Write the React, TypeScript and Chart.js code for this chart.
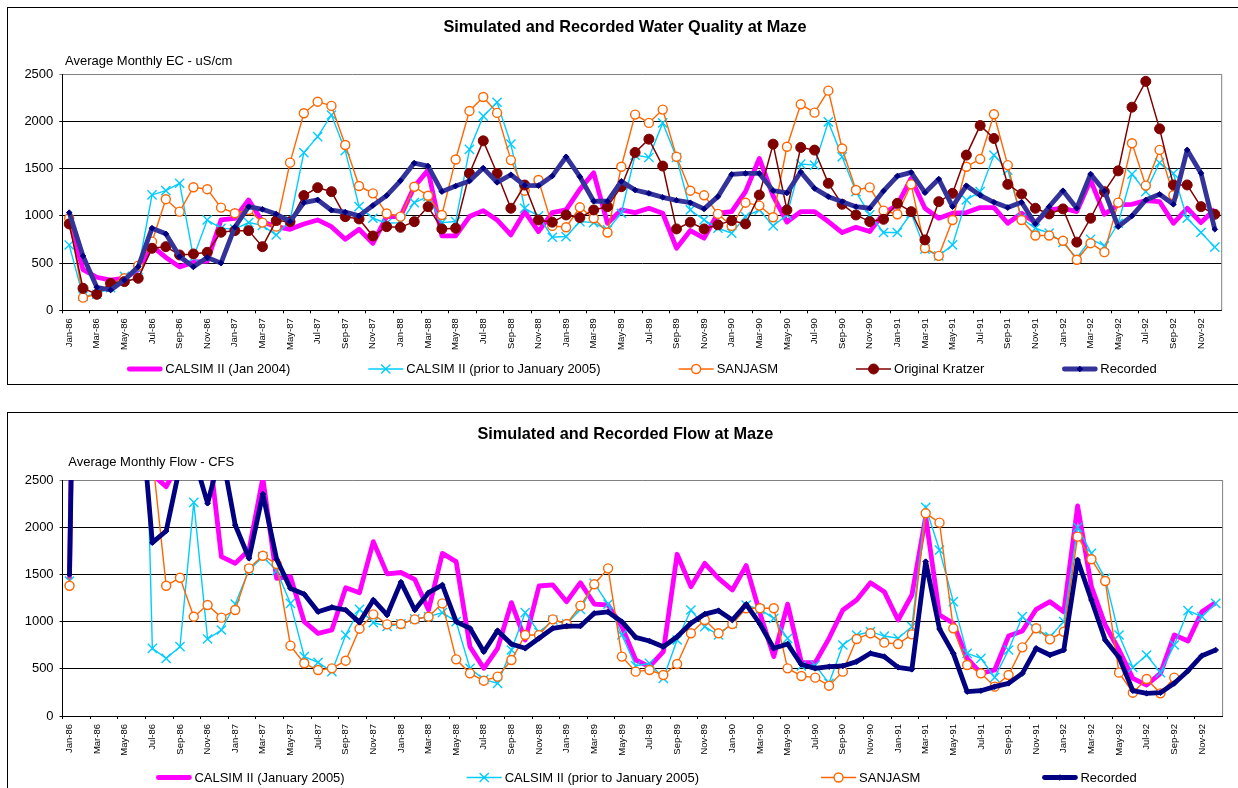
import React, { useEffect, useRef } from "react";
import { Chart, registerables } from "chart.js";

Chart.register(...registerables);

const FONT = "'Liberation Sans', Arial, Helvetica, sans-serif";

// ---------- categories ----------
const MONTH_NAMES = ["Jan", "Feb", "Mar", "Apr", "May", "Jun", "Jul", "Aug", "Sep", "Oct", "Nov", "Dec"];
const YEARS = ["86", "87", "88", "89", "90", "91", "92"];
const MONTH_LABELS: string[] = [];
YEARS.forEach((y) => MONTH_NAMES.forEach((m) => MONTH_LABELS.push(m + "-" + y)));

// ---------- y ticks ----------
const Y_MIN = 0;
const Y_MAX = 2500;
const Y_STEP = 500;

// ---------- Water quality (EC, uS/cm) ----------
const ecCalsim2004 = [
  960, 430, 350, 320, 340, 430, 680, 560, 460, 510, 520, 957,
  975, 1169, 939, 886, 858, 914, 957, 886, 752, 858, 710, 993,
  993, 1309, 1485, 789, 789, 993, 1056, 957, 799, 1045, 834, 1035,
  1063, 1281, 1457, 922, 1063, 1035, 1081, 1028, 658, 845, 764, 1028,
  1045, 1257, 1609, 1211, 935, 1045, 1045, 940, 824, 880, 834, 1028,
  1116, 1397, 1081, 975, 1028, 1035, 1088, 1088, 922, 1028, 929, 1063,
  1081, 1045, 1380, 1017, 1116, 1123, 1162, 1151, 922, 1081, 929, 1070,
];
const ecCalsimPrior = [
  692, 150, 170, 240, 360, 430, 1222, 1268, 1346, 560, 957, 869,
  860, 929, 900, 798, 950, 1670, 1840, 2069, 1691, 1098, 975, 922,
  929, 1140, 1204, 929, 940, 1704, 2056, 2204, 1760, 1081, 1000, 774,
  781, 940, 929, 852, 1028, 1644, 1619, 1985, 1619, 1063, 957, 869,
  817, 993, 1063, 894, 1010, 1550, 1538, 1996, 1626, 1257, 1010, 824,
  824, 1028, 648, 577, 693, 1169, 1257, 1644, 1485, 975, 869, 817,
  718, 553, 753, 683, 922, 1443, 1257, 1563, 1450, 975, 824, 669,
];
const ecSanjasm = [
  975, 134, 170, 280, 340, 473, 727, 1177, 1045, 1304, 1283, 1088,
  1028, 1063, 929, 886, 1564, 2087, 2210, 2165, 1751, 1317, 1239, 1025,
  992, 1309, 1214, 1010, 1598, 2112, 2260, 2091, 1591, 1267, 1380, 894,
  880, 1091, 975, 824, 1521, 2073, 1985, 2126, 1626, 1267, 1218, 1021,
  894, 1140, 1109, 986, 1732, 2182, 2094, 2327, 1714, 1274, 1302, 1056,
  1017, 1334, 658, 577, 957, 1521, 1602, 2077, 1538, 957, 792, 792,
  736, 535, 711, 616, 1141, 1770, 1321, 1699, 1219, null, null, null,
];
const ecKratzer = [
  915, 233, 170, 286, 304, 339, 657, 674, 586, 597, 614, 827,
  844, 844, 674, 950, 939, 1215, 1299, 1257, 992, 968, 787, 886,
  879, 939, 1098, 862, 869, 1450, 1795, 1450, 1081, 1327, 957, 933,
  1010, 982, 1063, 1098, 1309, 1672, 1813, 1528, 862, 933, 862, 905,
  950, 915, 1221, 1760, 1063, 1725, 1697, 1345, 1123, 1010, 940, 964,
  1133, 1045, 746, 1151, 1239, 1644, 1957, 1820, 1334, 1232, 1081, 1021,
  1074, 722, 975, 1257, 1477, 2152, 2425, 1922, 1328, 1328, 1098, 1017,
];
const ecRecorded = [
  1035, 575, 244, 215, 321, 462, 870, 810, 570, 460, 560, 500,
  880, 1098, 1070, 1020, 940, 1140, 1170, 1060, 1040, 1000, 1110, 1215,
  1372, 1560, 1528, 1257, 1316, 1369, 1507, 1355, 1436, 1324, 1320, 1422,
  1626, 1415, 1155, 1155, 1366, 1274, 1239, 1197, 1165, 1140, 1074, 1204,
  1440, 1450, 1450, 1267, 1243, 1465, 1292, 1204, 1151, 1098, 1081, 1264,
  1422, 1461, 1246, 1390, 1098, 1320, 1218, 1144, 1088, 1144, 915, 1098,
  1267, 1081, 1443, 1264, 886, 1000, 1169, 1229, 1123, 1699, 1452, 858,
];

// ---------- Flow (CFS) ----------
const flowCalsim2005 = [
  1450, 12000, 10000, 9000, 9000, 5000, 2560, 2430, 2700, 3500, 2950, 1688,
  1617, 1758, 2520, 1458, 1476, 999, 876, 911, 1359, 1306, 1847, 1505,
  1520, 1448, 1123, 1723, 1635, 734, 505, 717, 1201, 805, 1377, 1388,
  1211, 1412, 1186, 1176, 946, 593, 523, 681, 1713, 1370, 1617, 1458,
  1335, 1593, 1088, 629, 1185, 565, 565, 823, 1123, 1229, 1412, 1317,
  1017, 1282, 2112, 1070, 982, 611, 452, 487, 847, 900, 1130, 1211,
  1105, 2225, 1370, 964, 699, 399, 328, 452, 858, 794, 1105, 1201,
];
const flowCalsimPrior = [
  1430, 12000, 10000, 9000, 9000, 6400, 717, 611, 734, 2263, 816, 911,
  1186, 1547, 1688, 1540, 1193, 629, 568, 470, 858, 1130, 990, 950,
  975, 1028, 1052, 1095, 999, 505, 388, 346, 699, 1095, 883, 1017,
  975, 1130, 1405, 1186, 858, 530, 558, 399, 805, 1123, 946, 858,
  982, 1176, 1130, 1035, 823, 530, 540, 346, 752, 858, 893, 847,
  823, 946, 2210, 1758, 1211, 664, 611, 410, 699, 1052, 918, 840,
  999, 1998, 1723, 1458, 858, 516, 646, 459, 752, 1116, 1052, 1193,
];
const flowSanjasm = [
  1380, 12000, 10000, 9000, 9000, 6000, 2750, 1380, 1465, 1052, 1176, 1042,
  1123, 1564, 1698, 1610, 745, 558, 487, 505, 586, 925, 1077, 971,
  975, 1024, 1052, 1193, 600, 452, 374, 417, 593, 858, 858, 1024,
  975, 1169, 1395, 1564, 629, 470, 487, 434, 551, 876, 1017, 876,
  975, 1141, 1141, 1141, 505, 424, 406, 321, 470, 816, 876, 777,
  763, 865, 2147, 2048, 929, 540, 452, 311, 434, 727, 929, 812,
  893, 1900, 1660, 1430, 459, 247, 392, 240, 406, null, null, null,
];
const flowRecorded = [
  1500, 10000, 9000, 8000, 8000, 3550, 1836, 1960, 2650, 2750, 2253, 2820,
  2023, 1670, 2352, 1660, 1352, 1289, 1105, 1151, 1123, 992, 1229, 1070,
  1418, 1123, 1306, 1388, 999, 929, 681, 904, 763, 717, 823, 929,
  953, 953, 1088, 1102, 999, 833, 794, 734, 840, 982, 1080, 1116,
  1017, 1183, 975, 717, 763, 545, 505, 523, 530, 576, 664, 629,
  516, 494, 1635, 922, 664, 258, 268, 311, 346, 452, 717, 646,
  699, 1653, 1229, 805, 621, 268, 240, 247, 346, 480, 639, 699,
];

// ---------- styles ----------
const MAGENTA = "#FF00FF";
const CYAN = "#00CCFF";
const ORANGE = "#FF6600";
const MAROON = "#800000";

function mkDatasets(
  names: string[],
  series: (number | null)[][],
  recordedLine: string,
  clip: number | undefined
) {
  const base = { tension: 0, spanGaps: false, clip } as any;
  return [
    {
      ...base, label: names[0], data: series[0], order: 5,
      borderColor: MAGENTA, borderWidth: 4.8, pointRadius: 0,
      borderJoinStyle: "round",
    },
    {
      ...base, label: names[1], data: series[1], order: 4,
      borderColor: CYAN, borderWidth: 1.4, pointStyle: "crossRot", pointRadius: 6.5,
      pointBorderColor: CYAN, pointBorderWidth: 1.4, pointBackgroundColor: CYAN,
    },
    {
      ...base, label: names[2], data: series[2], order: 3,
      borderColor: ORANGE, borderWidth: 1.4, pointStyle: "circle", pointRadius: 4.5,
      pointBorderColor: ORANGE, pointBorderWidth: 1.4, pointBackgroundColor: "#FFFFFF",
    },
    ...(series.length === 5
      ? [{
          ...base, label: names[3], data: series[3], order: 2,
          borderColor: MAROON, borderWidth: 1.5, pointStyle: "circle", pointRadius: 5,
          pointBorderColor: MAROON, pointBorderWidth: 1, pointBackgroundColor: MAROON,
        }]
      : []),
    {
      ...base, label: names[names.length - 1], data: series[series.length - 1], order: 1,
      borderColor: recordedLine, borderWidth: 4.8, pointStyle: "rectRot", pointRadius: 2.8,
      pointBorderColor: "#000080", pointBorderWidth: 1, pointBackgroundColor: "#000080",
      borderJoinStyle: "round",
    },
  ];
}

function drawMarker(ctx: CanvasRenderingContext2D, ds: any, x: number, y: number) {
  const r = ds.pointRadius || 0;
  if (!r) return;
  ctx.save();
  ctx.lineWidth = ds.pointBorderWidth || 1;
  ctx.strokeStyle = ds.pointBorderColor;
  ctx.fillStyle = ds.pointBackgroundColor;
  ctx.beginPath();
  if (ds.pointStyle === "circle") {
    ctx.arc(x, y, r, 0, Math.PI * 2);
    ctx.fill();
    ctx.stroke();
  } else if (ds.pointStyle === "crossRot") {
    const d = r * Math.SQRT1_2;
    ctx.moveTo(x - d, y - d); ctx.lineTo(x + d, y + d);
    ctx.moveTo(x + d, y - d); ctx.lineTo(x - d, y + d);
    ctx.stroke();
  } else if (ds.pointStyle === "rectRot") {
    ctx.moveTo(x, y - r); ctx.lineTo(x + r, y); ctx.lineTo(x, y + r); ctx.lineTo(x - r, y);
    ctx.closePath();
    ctx.fill();
    ctx.stroke();
  }
  ctx.restore();
}

const decorPlugin = {
  id: "decor",
  beforeDatasetsDraw(chart: any) {
    const { ctx, chartArea: a } = chart;
    ctx.save();
    ctx.strokeStyle = "#808080";
    ctx.lineWidth = 1;
    ctx.beginPath();
    ctx.moveTo(a.right, a.top);
    ctx.lineTo(a.right, a.bottom);
    ctx.stroke();
    ctx.restore();
  },
  afterDraw(chart: any, _args: any, opts: any) {
    const { ctx, chartArea: a } = chart;
    ctx.save();
    ctx.fillStyle = "#000";
    // title
    ctx.font = `bold 16.3px ${FONT}`;
    ctx.textAlign = "center";
    ctx.textBaseline = "middle";
    ctx.fillText(opts.title, opts.titleX, opts.titleY);
    // y axis caption
    ctx.font = `13px ${FONT}`;
    ctx.textAlign = "left";
    ctx.fillText(opts.yTitle, opts.yTitleX, opts.yTitleY);
    // legend
    const datasets = chart.data.datasets;
    const sampleW = 35;
    const sampleGap = 3;
    const widths = datasets.map((d: any) => sampleW + sampleGap + ctx.measureText(d.label).width);
    const total = widths.reduce((s: number, w: number) => s + w, 0) + opts.legendGap * (datasets.length - 1);
    let x = (a.left + a.right) / 2 - total / 2 + opts.legendShift;
    const y = opts.legendY;
    datasets.forEach((d: any, i: number) => {
      ctx.save();
      ctx.strokeStyle = d.borderColor;
      ctx.lineWidth = d.borderWidth;
      ctx.lineCap = d.borderWidth > 3 ? "round" : "butt";
      ctx.beginPath();
      ctx.moveTo(x + (d.borderWidth > 3 ? 2 : 0), y);
      ctx.lineTo(x + sampleW - (d.borderWidth > 3 ? 2 : 0), y);
      ctx.stroke();
      ctx.restore();
      drawMarker(ctx, d, x + sampleW / 2, y);
      ctx.fillStyle = "#000";
      ctx.textBaseline = "middle";
      ctx.textAlign = "left";
      ctx.fillText(d.label, x + sampleW + sampleGap, y + 0.5);
      x += widths[i] + opts.legendGap;
    });
    ctx.restore();
  },
};

type PanelProps = {
  top: number;
  height: number;
  canvasH: number;
  area: { left: number; right: number; top: number; bottom: number };
  datasets: any[];
  decor: any;
};

const CANVAS_W = 1238;
const Y_AXIS_W = 40;
const X_AXIS_H = 40;

function Panel({ top, height, canvasH, area, datasets, decor }: PanelProps) {
  const ref = useRef<HTMLCanvasElement>(null);
  useEffect(() => {
    if (!ref.current) return;
    const chart = new Chart(ref.current, {
      type: "line",
      data: { labels: MONTH_LABELS, datasets },
      plugins: [decorPlugin],
      options: {
        responsive: false,
        animation: false,
        events: [],
        layout: {
          padding: {
            left: area.left - Y_AXIS_W,
            right: CANVAS_W - area.right,
            top: area.top,
            bottom: canvasH - area.bottom - X_AXIS_H,
          },
        },
        plugins: {
          legend: { display: false },
          title: { display: false },
          tooltip: { enabled: false },
          decor,
        } as any,
        scales: {
          x: {
            type: "category",
            offset: true,
            afterFit: (s: any) => { s.height = X_AXIS_H; },
            border: { color: "#000", width: 1 },
            grid: {
              offset: true,
              drawOnChartArea: false,
              drawTicks: true,
              tickLength: 3,
              tickColor: (c: any) => (c.index % 2 === 0 ? "#000" : "rgba(0,0,0,0)"),
            },
            ticks: {
              autoSkip: false,
              maxRotation: 90,
              minRotation: 90,
              padding: 5,
              color: "#000",
              font: { family: FONT, size: 9.5 },
              callback: (_v: any, i: number) => (i % 2 === 0 ? MONTH_LABELS[i] : ""),
            },
          },
          y: {
            min: Y_MIN,
            max: Y_MAX,
            afterFit: (s: any) => { s.width = Y_AXIS_W; },
            border: { color: "#000", width: 1 },
            grid: {
              color: (c: any) => (c.tick && c.tick.value === Y_MAX ? "#808080" : "#000"),
              lineWidth: 1,
              tickLength: 3,
            },
            ticks: {
              stepSize: Y_STEP,
              padding: 6,
              color: "#000",
              font: { family: FONT, size: 13 },
              callback: (v: any) => String(v),
            },
          },
        },
      } as any,
    });
    return () => chart.destroy();
  }, []);
  return (
    <div
      style={{
        position: "absolute",
        left: 7,
        top,
        width: CANVAS_W + 2,
        height,
        border: "1px solid #000",
        boxSizing: "border-box",
        background: "#fff",
      }}
    >
      <canvas ref={ref} width={CANVAS_W} height={canvasH} style={{ display: "block" }} />
    </div>
  );
}

const EC_NAMES = ["CALSIM II (Jan 2004)", "CALSIM II (prior to January 2005)", "SANJASM", "Original Kratzer", "Recorded"];
const FLOW_NAMES = ["CALSIM II (January 2005)", "CALSIM II (prior to January 2005)", "SANJASM", "Recorded"];

export default function App() {
  const ecSets = mkDatasets(EC_NAMES, [ecCalsim2004, ecCalsimPrior, ecSanjasm, ecKratzer, ecRecorded], "#333399", undefined);
  const flowSets = mkDatasets(FLOW_NAMES, [flowCalsim2005, flowCalsimPrior, flowSanjasm, flowRecorded], "#000080", 0);
  return (
    <div style={{ position: "fixed", left: 0, top: 0, width: 1238, height: 788, overflow: "hidden", background: "#fff" }}>
      <Panel
        top={7}
        height={378}
        canvasH={376}
        area={{ left: 54.3, right: 1213.7, top: 66.3, bottom: 302.3 }}
        datasets={ecSets}
        decor={{
          title: "Simulated and Recorded Water Quality at Maze",
          titleX: 617, titleY: 20,
          yTitle: "Average Monthly EC - uS/cm",
          yTitleX: 57, yTitleY: 53.5,
          legendY: 361, legendGap: 78, legendShift: 0,
        }}
      />
      <Panel
        top={412}
        height={400}
        canvasH={398}
        area={{ left: 54.6, right: 1214.6, top: 67, bottom: 303 }}
        datasets={flowSets}
        decor={{
          title: "Simulated and Recorded Flow at Maze",
          titleX: 617.4, titleY: 21.5,
          yTitle: "Average Monthly Flow - CFS",
          yTitleX: 60.3, yTitleY: 49.5,
          legendY: 364.5, legendGap: 122, legendShift: 4,
        }}
      />
    </div>
  );
}
